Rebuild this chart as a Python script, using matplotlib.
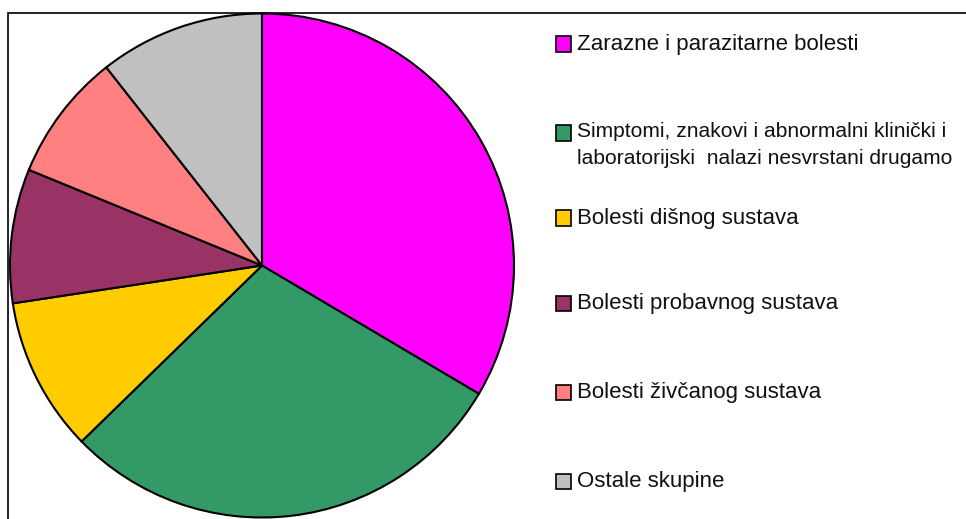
import matplotlib
matplotlib.use("Agg")
import matplotlib.pyplot as plt
from matplotlib.patches import Rectangle

categories = [
    "Zarazne i parazitarne bolesti",
    "Simptomi, znakovi i abnormalni klinički i\nlaboratorijski  nalazi nesvrstani drugamo",
    "Bolesti dišnog sustava",
    "Bolesti probavnog sustava",
    "Bolesti živčanog sustava",
    "Ostale skupine",
]
values = [33.5, 29.2, 9.9, 8.6, 8.2, 10.6]
colors = ["#FF00FF", "#339966", "#FFCC00", "#993366", "#FF8080", "#C0C0C0"]

W, H = 966, 519
fig = plt.figure(figsize=(W / 100, H / 100), dpi=100)
plt.rcParams['font.family'] = ['Liberation Sans', 'DejaVu Sans']

# outer frame (extends beyond right/bottom edge)
fig.patches.append(Rectangle((8 / W, -0.1), 1.2, (H - 13) / H + 0.1,
                             transform=fig.transFigure, fill=False,
                             edgecolor="black", linewidth=1.2, zorder=0))

cx, cy, r = 262, 265.5, 252
ax = fig.add_axes([(cx - r) / W, (H - cy - r) / H, 2 * r / W, 2 * r / H])
ax.pie(values, colors=colors, startangle=90, counterclock=False,
       wedgeprops=dict(edgecolor="black", linewidth=1.5))
ax.set_xlim(-1, 1)
ax.set_ylim(-1, 1)
ax.set_aspect("auto")
ax.axis("off")

# legend
ys = [44, 133, 218, 303, 392, 481]
for label, col, y in zip(categories, colors, ys):
    fig.patches.append(Rectangle((556 / W, (H - y - 7.5) / H), 15 / W, 15 / H,
                                 transform=fig.transFigure, facecolor=col,
                                 edgecolor="black", linewidth=1.2))
    lines = label.split("\n")
    base = y + 6 if len(lines) == 1 else y + 4
    fs = 16 if len(lines) == 1 else 15.1
    for i, line in enumerate(lines):
        fig.text(577 / W, (H - base - 27 * i) / H, line, fontsize=fs,
                 va="baseline", ha="left", color="#111111")

fig.savefig("out.png", dpi=100)
